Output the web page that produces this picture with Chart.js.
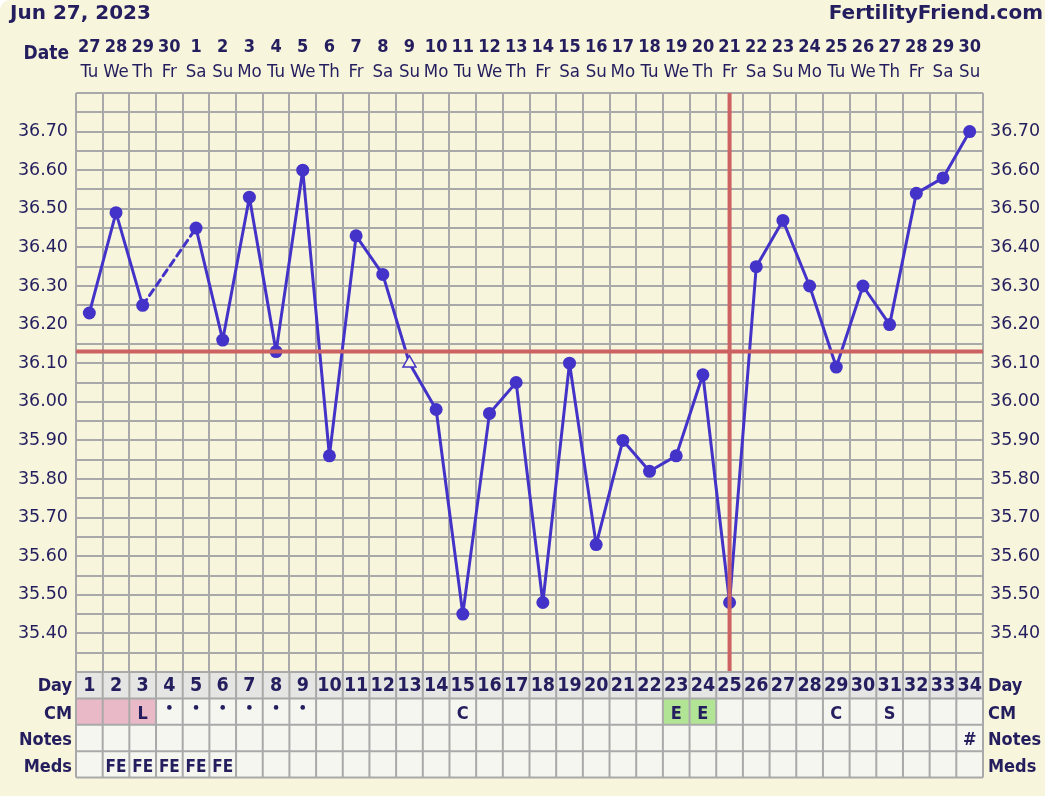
<!DOCTYPE html>
<html lang="en">
<head>
<meta charset="UTF-8">
<title>Jun 27, 2023 - FertilityFriend.com</title>
<script src="https://cdn.jsdelivr.net/npm/chart.js"></script>
<style>
  html, body { margin: 0; padding: 0; background: #ffffff; }
  .wrap { width: 1045px; height: 796px; background: #f7f5dc; border-radius: 10px 0 0 0; overflow: hidden; }
</style>
</head>
<body>
<div class="wrap"><canvas id="bbtChart" width="1045" height="796"></canvas></div>

<script>
// chart data
const cycleDays = [1, 2, 3, 4, 5, 6, 7, 8, 9, 10, 11, 12, 13, 14, 15, 16, 17,
                   18, 19, 20, 21, 22, 23, 24, 25, 26, 27, 28, 29, 30, 31, 32, 33, 34];
const dates = ['27', '28', '29', '30', '1', '2', '3', '4', '5', '6', '7', '8', '9', '10', '11', '12', '13',
               '14', '15', '16', '17', '18', '19', '20', '21', '22', '23', '24', '25', '26', '27', '28', '29', '30'];
const weekdays = ['Tu', 'We', 'Th', 'Fr', 'Sa', 'Su', 'Mo', 'Tu', 'We', 'Th', 'Fr', 'Sa', 'Su', 'Mo', 'Tu', 'We', 'Th',
                  'Fr', 'Sa', 'Su', 'Mo', 'Tu', 'We', 'Th', 'Fr', 'Sa', 'Su', 'Mo', 'Tu', 'We', 'Th', 'Fr', 'Sa', 'Su'];
const temps = [36.23, 36.49, 36.25, null, 36.45, 36.16, 36.53, 36.13, 36.60, 35.86, 36.43, 36.33, 36.10, 35.98, 35.45, 35.97, 36.05,
               35.48, 36.10, 35.63, 35.90, 35.82, 35.86, 36.07, 35.48, 36.35, 36.47, 36.30, 36.09, 36.30, 36.20, 36.54, 36.58, 36.70];
const openPoints = [13];          // discarded / open temperature marker
const coverline = 36.13;
const ovulationDay = 25;

const cmValues = ['', '', 'L', '•', '•', '•', '•', '•', '•', '', '', '', '', '', 'C', '', '',
                  '', '', '', '', '', 'E', 'E', '', '', '', '', 'C', '', 'S', '', '', ''];
const cmColors = ['pink', 'pink', 'pink', '', '', '', '', '', '', '', '', '', '', '', '', '', '',
                  '', '', '', '', '', 'green', 'green', '', '', '', '', '', '', '', '', '', ''];
const notes = ['', '', '', '', '', '', '', '', '', '', '', '', '', '', '', '', '',
               '', '', '', '', '', '', '', '', '', '', '', '', '', '', '', '', '#'];
const meds = ['', 'FE', 'FE', 'FE', 'FE', 'FE', '', '', '', '', '', '', '', '', '', '', '',
              '', '', '', '', '', '', '', '', '', '', '', '', '', '', '', '', ''];

const ink = '#241e5e';
const gridGray = '#a9a9a9';
const lineBlue = '#4433c8';
const red = '#cc6262';
const cond = '"DejaVu Sans Condensed", "DejaVu Sans", sans-serif';

Chart.defaults.font.family = '"DejaVu Sans", Verdana, sans-serif';

function tempLabel(value) {
    const v = Math.round(value * 100);
    if (v % 10 === 0 && v > 3530 && v < 3680) return (v / 100).toFixed(2);
    return '';
}

// extra drawing: coverline, header dates, bottom table
const chartDecor = {
    id: 'chartDecor',
    afterDatasetsDraw(chart) {
        const { ctx, chartArea: a, scales: { x, y } } = chart;
        ctx.save();
        ctx.strokeStyle = red;
        ctx.lineWidth = 4;
        const cy = y.getPixelForValue(coverline);
        ctx.beginPath(); ctx.moveTo(a.left, cy); ctx.lineTo(a.right, cy); ctx.stroke();
        const ox = x.getPixelForValue(ovulationDay - 1);
        ctx.beginPath(); ctx.moveTo(ox, a.top); ctx.lineTo(ox, a.bottom); ctx.stroke();
        ctx.restore();
    },
    afterDraw(chart) {
        const { ctx, chartArea: a, scales: { x } } = chart;
        const colW = x.getPixelForValue(1) - x.getPixelForValue(0);
        ctx.save();
        ctx.fillStyle = ink;

        // header
        ctx.font = 'bold 20px "DejaVu Sans", sans-serif';
        ctx.textAlign = 'left';
        ctx.fillText('Jun 27, 2023', 10, 19);
        ctx.textAlign = 'right';
        ctx.fillText('FertilityFriend.com', 1043, 19);

        ctx.font = 'bold 19px ' + cond;
        ctx.fillText('Date', 69, 59);

        ctx.textAlign = 'center';
        for (let i = 0; i < cycleDays.length; i++) {
            const cx = x.getPixelForValue(i);
            ctx.font = 'bold 18px ' + cond;
            ctx.fillText(dates[i], cx, 52);
            ctx.font = '18.5px ' + cond;
            ctx.fillText(weekdays[i], cx, 77);
        }

        // table
        const rowH = 26.4;
        const top = a.bottom;
        const rows = 4;
        ctx.fillStyle = '#e5e5e3';
        ctx.fillRect(a.left, top, a.right - a.left, rowH);
        ctx.fillStyle = '#f6f6f0';
        ctx.fillRect(a.left, top + rowH, a.right - a.left, rowH * 3);
        for (let i = 0; i < cycleDays.length; i++) {
            if (!cmColors[i]) continue;
            ctx.fillStyle = cmColors[i] === 'pink' ? '#e9b9c7' : '#b2e496';
            ctx.fillRect(x.getPixelForValue(i) - colW / 2, top + rowH, colW, rowH);
        }

        ctx.strokeStyle = gridGray;
        ctx.lineWidth = 2;
        ctx.beginPath();
        for (let r = 0; r <= rows; r++) {
            ctx.moveTo(a.left, top + r * rowH);
            ctx.lineTo(a.right, top + r * rowH);
        }
        for (let i = 0; i <= cycleDays.length; i++) {
            const lx = x.getPixelForValue(0) - colW / 2 + i * colW;
            ctx.moveTo(lx, top);
            ctx.lineTo(lx, top + rows * rowH);
        }
        ctx.stroke();

        const labels = ['Day', 'CM', 'Notes', 'Meds'];
        const base = [691, 719, 745, 772];
        ctx.fillStyle = ink;
        ctx.font = 'bold 18px ' + cond;
        for (let r = 0; r < rows; r++) {
            ctx.textAlign = 'right';
            ctx.fillText(labels[r], 72, base[r]);
            ctx.textAlign = 'left';
            ctx.fillText(labels[r], 988, base[r]);
        }

        ctx.textAlign = 'center';
        for (let i = 0; i < cycleDays.length; i++) {
            const cx = x.getPixelForValue(i);
            ctx.font = 'bold 19.5px ' + cond;
            ctx.fillText(String(cycleDays[i]), cx, base[0]);
            ctx.font = 'bold 18px ' + cond;
            if (cmValues[i] === '•') {
                ctx.beginPath();
                ctx.arc(cx, top + rowH + 9, 2.3, 0, Math.PI * 2);
                ctx.fill();
            } else if (cmValues[i]) {
                ctx.fillText(cmValues[i], cx, base[1]);
            }
            if (notes[i]) ctx.fillText(notes[i], cx, base[2]);
            ctx.font = 'bold 17px ' + cond;
            if (meds[i]) ctx.fillText(meds[i], cx, base[3]);
        }
        ctx.restore();
    }
};

const tempTicks = {
    stepSize: 0.05,
    autoSkip: false,
    color: ink,
    font: { size: 17.5 },
    callback: tempLabel
};

new Chart(document.getElementById('bbtChart'), {
    type: 'line',
    data: {
        labels: cycleDays,
        datasets: [{
            label: 'Temperature',
            data: temps,
            borderColor: lineBlue,
            borderWidth: 3,
            borderJoinStyle: 'round',
            borderCapStyle: 'round',
            spanGaps: true,
            segment: {
                borderDash: ctx => (ctx.p0.skip || ctx.p1.skip) ? [7, 5] : undefined
            },
            pointStyle: ctx => openPoints.includes(cycleDays[ctx.dataIndex]) ? 'triangle' : 'circle',
            pointRadius: ctx => openPoints.includes(cycleDays[ctx.dataIndex]) ? 7.5 : 6.5,
            pointBackgroundColor: ctx => openPoints.includes(cycleDays[ctx.dataIndex]) ? '#f7f5dc' : lineBlue,
            pointBorderColor: lineBlue,
            pointBorderWidth: ctx => openPoints.includes(cycleDays[ctx.dataIndex]) ? 1.5 : 0,
            tension: 0
        }]
    },
    options: {
        responsive: false,
        animation: false,
        layout: { padding: { top: 93, bottom: 124, left: 0, right: 0 } },
        plugins: {
            legend: { display: false },
            tooltip: { enabled: false }
        },
        scales: {
            x: {
                type: 'category',
                offset: true,
                grid: { offset: true, color: gridGray, lineWidth: 2, drawTicks: false },
                border: { display: false },
                ticks: { display: false, autoSkip: false },
                afterFit: s => { s.height = 0; }
            },
            y: {
                position: 'left',
                min: 35.3,
                max: 36.8,
                grid: { color: gridGray, lineWidth: 2, drawTicks: false },
                border: { display: false },
                ticks: Object.assign({ padding: 8 }, tempTicks),
                afterFit: s => { s.width = 76; }
            },
            y2: {
                position: 'right',
                min: 35.3,
                max: 36.8,
                grid: { display: false, drawTicks: false },
                border: { display: false },
                ticks: Object.assign({ padding: 7 }, tempTicks),
                afterFit: s => { s.width = 62; }
            }
        }
    },
    plugins: [chartDecor]
});
</script>
</body>
</html>
